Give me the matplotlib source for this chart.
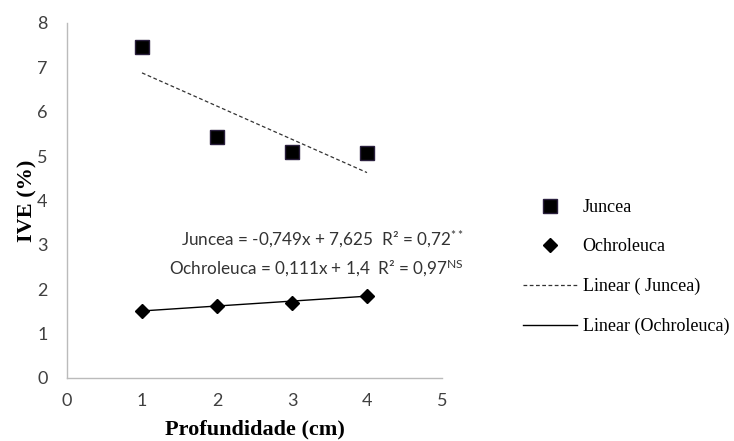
import matplotlib
matplotlib.use("Agg")
import matplotlib.pyplot as plt
import numpy as np
from matplotlib.lines import Line2D

# Data
depth = [1, 2, 3, 4]
juncea = [7.45, 5.42, 5.10, 5.06]
ochroleuca = [1.50, 1.63, 1.70, 1.84]
juncea_fit = (-0.749, 7.625)
ochro_fit = (0.111, 1.4)
xticks = [0, 1, 2, 3, 4, 5]
yticks = [0, 1, 2, 3, 4, 5, 6, 7, 8]

plt.rcParams['mathtext.fontset'] = 'custom'
plt.rcParams['mathtext.rm'] = 'Lato'
plt.rcParams['mathtext.it'] = 'Lato:italic'
plt.rcParams['mathtext.bf'] = 'Lato:bold'

fig = plt.figure(figsize=(7.34, 4.41), dpi=100)
ax = fig.add_axes([67/734, 63/441, 375/734, 355/441])

ax.plot(depth, juncea, linestyle='none', marker='s', markersize=9.5,
        markerfacecolor='black', markeredgecolor='#2a1f3d', markeredgewidth=1.0)
ax.plot(depth, ochroleuca, linestyle='none', marker='D', markersize=7,
        color='black')

xf = np.array([depth[0], depth[-1]])
ax.plot(xf, juncea_fit[0]*xf + juncea_fit[1], linestyle=(0, (3, 2)), color='#333333', linewidth=0.9)
ax.plot(xf, ochro_fit[0]*xf + ochro_fit[1], linestyle='-', color='black', linewidth=1.0)

ax.set_xlim(0, 5)
ax.set_ylim(0, 8)
ax.set_xticks(xticks)
ax.set_yticks(yticks)
ax.tick_params(length=0, labelsize=13, labelcolor='#404040')
ax.tick_params(axis='x', pad=11)
ax.tick_params(axis='y', pad=14)
for lab in ax.get_xticklabels() + ax.get_yticklabels():
    lab.set_fontfamily('Lato')
for s in ['top', 'right']:
    ax.spines[s].set_visible(False)
for s in ['left', 'bottom']:
    ax.spines[s].set_color('#bbbbbb')
    ax.spines[s].set_linewidth(1.0)

ax.set_xlabel('Profundidade (cm)', fontfamily='Liberation Serif', fontweight='bold',
              fontsize=16, labelpad=7)
ax.set_ylabel('IVE (%)', fontfamily='Liberation Serif', fontweight='bold',
              fontsize=16, labelpad=0)

fig.text(464/734, 1 - 239/441, 'Juncea = -0,749x + 7,625  R² = 0,72$^{**}$',
         ha='right', va='center', fontfamily='Lato', fontsize=12.3, color='#333333')
fig.text(464/734, 1 - 268/441, 'Ochroleuca = 0,111x + 1,4  R² = 0,97$^{\\mathrm{NS}}$',
         ha='right', va='center', fontfamily='Lato', fontsize=12.3, color='#333333')

handles = [
    Line2D([], [], linestyle='none', marker='s', markersize=9.5, markerfacecolor='black',
           markeredgecolor='#2a1f3d'),
    Line2D([], [], linestyle='none', marker='D', markersize=7, color='black'),
    Line2D([], [], linestyle=(0, (3, 2)), color='#333333', linewidth=0.9),
    Line2D([], [], linestyle='-', color='black', linewidth=1.0),
]
labels = ['Juncea', 'Ochroleuca', 'Linear ( Juncea)', 'Linear (Ochroleuca)']
fig.legend(handles, labels, loc='center left', bbox_to_anchor=(523/734, 1 - 267/441),
           frameon=False, borderpad=0, borderaxespad=0, handlelength=3.0,
           handletextpad=0.3, labelspacing=1.25,
           prop={'family': 'Liberation Serif', 'size': 13})

fig.savefig('out.png', dpi=100)
